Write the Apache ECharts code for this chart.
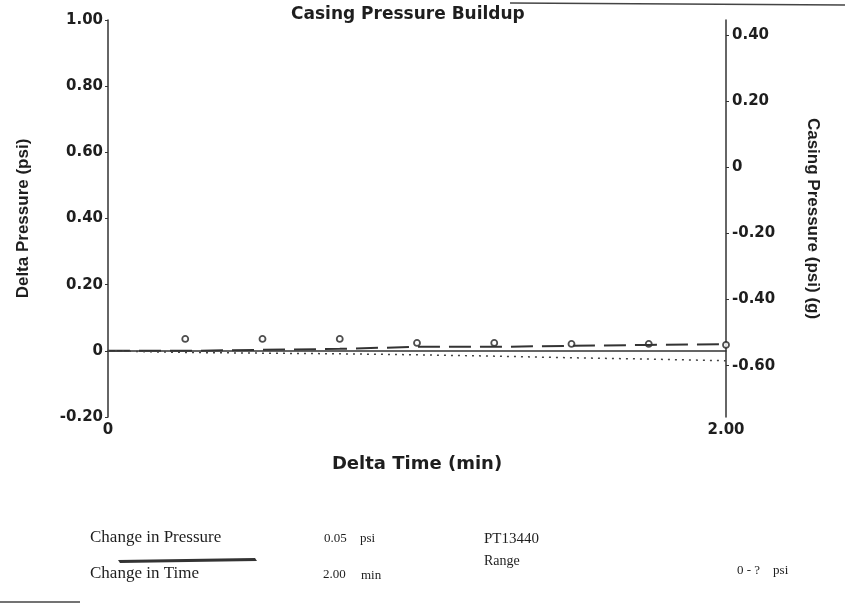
<!DOCTYPE html>
<html><head><meta charset="utf-8">
<script src="https://cdn.jsdelivr.net/npm/echarts@6/dist/echarts.min.js"></script>
<style>html,body{margin:0;padding:0;background:#fff}#c{width:845px;height:605px}</style>
</head><body><div id="c"></div>
<script>
const times = [0, 0.25, 0.5, 0.75, 1.0, 1.25, 1.5, 1.75, 2.0];
const dashedValues = [0, 0, 0.003, 0.006, 0.012, 0.012, 0.015, 0.018, 0.020];
const dottedValues = [0, -0.005, -0.007, -0.009, -0.012, -0.016, -0.021, -0.025, -0.030];
const pointTimes = [0.25, 0.5, 0.75, 1.0, 1.25, 1.5, 1.75, 2.0];
const pointValues = [0.036, 0.036, 0.036, 0.024, 0.024, 0.021, 0.021, 0.018];
const rightTicks = [-0.6, -0.4, -0.2, 0, 0.2, 0.4];

const fmt = v => (Math.abs(v) < 1e-9 ? '0' : v.toFixed(2));
const ink = '#1e1e1e';
const labelFont = {color: ink, fontFamily: 'DejaVu Sans', fontWeight: 'bold', fontSize: 15};

const chart = echarts.init(document.getElementById('c'));
chart.setOption({
  animation: false,
  backgroundColor: '#fff',
  title: {text: 'Casing Pressure Buildup', left: 286, top: 1,
    textStyle: {color: ink, fontFamily: 'DejaVu Sans', fontWeight: 'bold', fontSize: 17}},
  grid: {left: 108, right: 119, top: 20, bottom: 188},
  xAxis: {type: 'value', min: 0, max: 2, interval: 2,
    name: 'Delta Time (min)', nameLocation: 'middle', nameGap: 38,
    nameTextStyle: {color: ink, fontFamily: 'DejaVu Sans', fontWeight: 'bold', fontSize: 18},
    axisLine: {lineStyle: {color: '#333', width: 1.5}},
    axisTick: {show: false}, splitLine: {show: false},
    axisLabel: Object.assign({formatter: fmt, margin: 6}, labelFont)},
  yAxis: [
    {type: 'value', min: -0.2, max: 1.0, interval: 0.2, position: 'left',
     name: 'Delta Pressure (psi)', nameLocation: 'middle', nameGap: 76, nameRotate: 90,
     nameTextStyle: {color: ink, fontFamily: 'Liberation Sans', fontWeight: 'bold', fontSize: 17},
     axisLine: {show: true, lineStyle: {color: '#333', width: 1.5}},
     axisTick: {show: true, length: 3, lineStyle: {color: '#333'}},
     splitLine: {show: false},
     axisLabel: Object.assign({formatter: fmt, margin: 5}, labelFont)},
    {type: 'value', min: -0.755, max: 0.445, position: 'right',
     name: 'Casing Pressure (psi) (g)', nameLocation: 'middle', nameGap: 78, nameRotate: -90,
     nameTextStyle: {color: ink, fontFamily: 'Liberation Sans', fontWeight: 'bold', fontSize: 17},
     axisLine: {show: true, lineStyle: {color: '#333', width: 1.5}},
     axisTick: {show: true, length: 3, customValues: rightTicks, lineStyle: {color: '#333'}},
     splitLine: {show: false},
     axisLabel: Object.assign({formatter: fmt, margin: 6, customValues: rightTicks}, labelFont)}
  ],
  series: [
    {type: 'line', name: 'dashed', yAxisIndex: 0, showSymbol: false,
     data: times.map((t, i) => [t, dashedValues[i]]),
     lineStyle: {color: '#333', width: 2, type: [22, 9]}},
    {type: 'line', name: 'dotted', yAxisIndex: 0, showSymbol: false,
     data: times.map((t, i) => [t, dottedValues[i]]),
     lineStyle: {color: '#444', width: 1.5, type: [2, 5]}},
    {type: 'scatter', name: 'points', yAxisIndex: 0, symbol: 'circle', symbolSize: 6,
     data: pointTimes.map((t, i) => [t, pointValues[i]]),
     itemStyle: {color: '#fff', borderColor: '#222', borderWidth: 1.8}}
  ],
  graphic: [
    {type: 'line', shape: {x1: 510, y1: 3, x2: 845, y2: 5}, style: {stroke: '#444', lineWidth: 1.5}},
    {type: 'line', shape: {x1: 0, y1: 602, x2: 80, y2: 602}, style: {stroke: '#444', lineWidth: 1.5}},
    {type: 'polygon', shape: {points: [[118, 560], [255, 558], [257, 561], [120, 563]]}, style: {fill: '#333'}},
    {type: 'text', left: 90, top: 529, style: {text: 'Change in Pressure', fill: ink, font: '17px "Liberation Serif"'}},
    {type: 'text', left: 324, top: 532, style: {text: '0.05', fill: ink, font: '13px "Liberation Serif"'}},
    {type: 'text', left: 360, top: 532, style: {text: 'psi', fill: ink, font: '13px "Liberation Serif"'}},
    {type: 'text', left: 90, top: 565, style: {text: 'Change in Time', fill: ink, font: '17px "Liberation Serif"'}},
    {type: 'text', left: 323, top: 568, style: {text: '2.00', fill: ink, font: '13px "Liberation Serif"'}},
    {type: 'text', left: 361, top: 569, style: {text: 'min', fill: ink, font: '13px "Liberation Serif"'}},
    {type: 'text', left: 484, top: 532, style: {text: 'PT13440', fill: ink, font: '15px "Liberation Serif"'}},
    {type: 'text', left: 484, top: 554, style: {text: 'Range', fill: ink, font: '14px "Liberation Serif"'}},
    {type: 'text', left: 737, top: 564, style: {text: '0 - ?    psi', fill: ink, font: '13px "Liberation Serif"'}}
  ]
});
</script></body></html>
